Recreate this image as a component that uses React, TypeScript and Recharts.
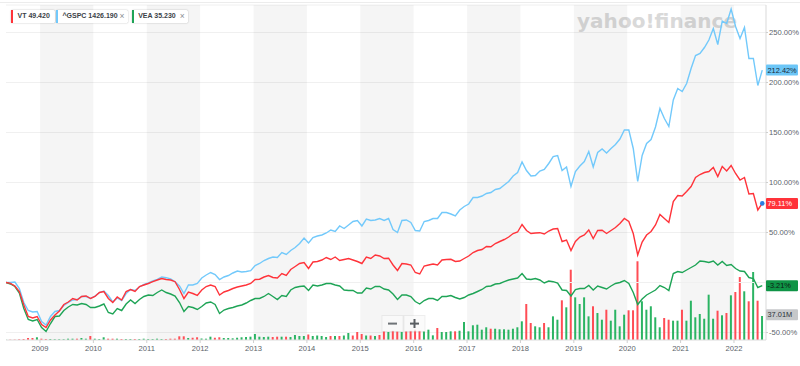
import React from "react";
import {
  ComposedChart,
  Line,
  Bar,
  Cell,
  XAxis,
  YAxis,
  CartesianGrid,
  ReferenceArea,
  ReferenceLine,
  ReferenceDot,
} from "recharts";

// monthly points, May 2008 .. Jul 2022 (171 months), % change from first point
const START_YEAR = 2008;
const START_MONTH = 5;

const vtPct = [
  0, -0.8, -3.5, -9, -22.5, -34, -35.5, -34, -42, -45,
  -37.5, -32.5, -28.5, -22, -19.5, -16, -17.5, -14, -13.5, -16,
  -14, -10, -9, -16, -20, -14.5, -17.5, -9, -7, -9,
  -4, -2.5, -1, 0.8, 2.5, 4, 3, 2.5, 0.8, -7,
  -16, -9.5, -11, -13, -7.5, -4, -2.5, -4, -12.5, -9.5,
  -8, -6, -4.5, -3.5, -2.5, -1, 3, 3.3, 5.5, 7,
  5, 4.5, 9, 7, 13, 16, 19, 20, 14, 20.5,
  21, 22.5, 25, 23, 25.5, 22, 23, 24, 22.5, 21,
  19, 25.5, 24, 27.5, 26.5, 24, 24.3, 17.5, 12, 19,
  18.5, 17.5, 10, 8.5, 16.5, 17.5, 18.5, 17.5, 22.5, 23,
  23.2, 21, 21.5, 24, 26.5, 30, 32, 33, 36, 35.8,
  39, 41, 43, 45.5, 49, 50.5, 58, 52, 49, 49.5,
  49.8, 48.5, 51.5, 53.5, 54, 41, 42.5, 32, 41, 45.5,
  47.5, 52.5, 44, 52, 52.3, 49, 52, 55, 59, 64,
  61, 49, 27.5, 40.5, 47.5, 51, 57.5, 68, 64, 60,
  81, 87, 86.5, 91, 96, 105, 108, 110, 111, 115,
  106, 116, 111.5, 117, 109, 102.5, 105, 88.5, 89, 72.5,
  79.11,
];

const gspcPct = [
  0, 0, 0.5, -6, -20, -28, -29.5, -29, -39, -42.5,
  -34, -29, -28, -23, -20, -17.5, -17, -14, -14, -16,
  -13.5, -10, -8.5, -13, -19.5, -15.5, -18, -11, -7, -8,
  -4.5, -2, -0.5, 1.5, 3.2, 5.5, 4.8, 3.5, 0.8, -3.5,
  -11, -2.5, -2.5, -1, 4.5, 7.5, 10, 8, 3, 5.5,
  7, 9.5, 11.5, 10.5, 11, 11.8, 17, 19, 22, 24,
  25.5, 25, 30, 28, 32, 35, 39, 44.5, 39.5, 45,
  46.5, 47.5, 49.5, 52.5, 51, 56.5, 54, 57.5, 61, 62,
  56.5, 63.5, 62, 62.5, 64, 62, 64, 53, 50, 62,
  62.5, 60, 52, 51.5, 61, 62, 64, 64, 70, 70,
  68.5, 66.5, 72.5, 76, 78.5, 85, 85, 86.5, 89, 90,
  93, 94, 97.5, 101, 106.5, 110, 120.5, 112, 106.5, 107,
  111.5, 113, 119, 126, 127, 112, 115.5, 96, 111, 116.5,
  121, 131, 115.5, 130, 133.5, 129.5, 134, 138, 143.5, 152.5,
  152.5, 134, 101, 127, 139, 143, 155.5, 174, 164, 156,
  182.5, 194, 191, 199, 214, 227, 229, 235, 242.5, 254,
  238, 261.5, 259, 273.5, 256, 244, 255, 224, 224, 197,
  212.42,
];

const veaPct = [
  0, -1.5, -4, -10.5, -26, -37, -38.5, -37, -45, -49,
  -41, -34, -33.5, -28, -24.5, -22, -22.5, -21, -22, -25,
  -25, -23.5, -21.5, -30, -31.5, -26, -28, -21.5, -17.5, -21,
  -17, -14, -12.5, -13, -10, -7.5, -10, -11.5, -13.5, -20,
  -29, -24, -25, -27, -24, -20.5, -19.5, -22, -31, -27.5,
  -26, -25, -23.5, -22.5, -20.5, -18, -16, -16, -14, -11,
  -14, -17, -13, -14, -7.5, -5, -4, -3.5, -8, -2.5,
  -3.5, -2.5, -1, -1, -2.5, -3.5, -7.5, -8, -8, -10.5,
  -10.5, -5.5, -6.5, -4, -4, -6.5, -7.5, -11.5, -17, -12.5,
  -12.5, -14, -19, -21.5, -18, -16, -16, -18, -14, -14,
  -13, -15, -16.5, -15, -12.5, -11, -9, -7, -4, -3.5,
  -1.5, -1, 0.8, 2.5, 3.5, 4.5, 9, 3.5, 3, 4,
  2.5, -0.5, 1.5, 0.8, -0.5, -7.5, -8, -13.5, -7, -6,
  -6, -3, -7.5, -3.5, -5, -6.5, -3.5, -1, 0, 2,
  -1, -10, -22, -16.5, -12.5, -10, -7.5, -3, -5, -8,
  9, 11, 10, 12.5, 15, 17.5, 21.5, 21, 20, 21.5,
  17.5, 21, 17, 18, 14, 11.5, 11, 5, 4, -5,
  -3.21,
];

// VT monthly volume, millions
const vtVolume = [
  0.5, 0.5, 0.6, 1.1, 1.5, 3.1, 3.1, 4.2, 2.0, 1.5,
  1.5, 1.2, 1.2, 1.2, 2.0, 2.0, 2.0, 3.1, 2.0, 6.2,
  2.0, 1.5, 4.2, 2.0, 2.0, 2.0, 1.5, 1.5, 1.5, 1.5,
  1.5, 2.0, 1.5, 1.5, 2.0, 1.5, 1.5, 2.0, 2.0, 5.7,
  5.7, 3.1, 3.5, 4.2, 2.3, 2.0, 5.1, 3.5, 4.2, 3.1,
  3.1, 2.6, 3.5, 4.2, 4.6, 5.1, 9.3, 5.1, 4.6, 5.1,
  4.6, 5.1, 5.1, 5.1, 4.6, 7.7, 6.2, 6.2, 8.5, 6.2,
  6.9, 6.2, 4.6, 6.2, 6.2, 6.2, 6.9, 10.8, 6.9, 12.3,
  9.3, 6.9, 6.9, 6.2, 7.7, 13.4, 12.3, 14.3, 13.1, 12.3,
  13.4, 14.3, 15.9, 14.3, 13.4, 15.9, 7.2, 18.5, 12.3, 12.3,
  13.4, 13.4, 14.3, 27.8, 13.4, 22.7, 23.6, 15.9, 19.6, 17.4,
  17.4, 16.5, 16.5, 15.9, 17.4, 19.6, 28.8, 55.5, 26.2, 21.1,
  19.6, 26.2, 19.6, 36.5, 31.3, 61.2, 50.4, 108.4, 65.8, 55.5,
  65.8, 36.5, 52.0, 41.6, 31.3, 46.7, 29.8, 46.7, 21.1, 39.0,
  45.8, 45.8, 121.4, 59.7, 46.7, 52.0, 35.0, 19.6, 33.9, 31.3,
  29.8, 29.8, 46.7, 29.8, 60.6, 35.0, 40.1, 32.8, 69.9, 32.8,
  45.2, 38.1, 41.6, 68.9, 74.0, 97.1, 75.1, 59.7, 104.9, 60.6,
  37.01,
];

const yearTicks = [2009, 2010, 2011, 2012, 2013, 2014, 2015, 2016, 2017, 2018, 2019, 2020, 2021, 2022];
const shadedYears = [2009, 2011, 2013, 2015, 2017, 2019, 2021];
const pctTicks = [-50, 50, 100, 150, 200, 250];

const RED = "#ff333a";
const BLUE = "#72c9fb";
const GREEN = "#1ea456";
const BAR_RED = "#ff4d55";
const BAR_GREEN = "#2bb463";

const data = vtPct.map((vt, i) => {
  const m = START_MONTH - 1 + i;
  const year = START_YEAR + Math.floor(m / 12);
  const month = m % 12;
  return {
    t: year + (month + 0.36) / 12,
    vt,
    gspc: gspcPct[i],
    vea: veaPct[i],
    vol: vtVolume[i],
    up: i === 0 || vt >= vtPct[i - 1],
  };
});
const last = data[data.length - 1];

const badge = (text: string, bg: string, color: string) => (props: any) => {
  const { cy } = props;
  return (
    <g>
      <rect x={766} y={cy - 5.5} width={32} height={11} rx={1} fill={bg} />
      <text x={767.5} y={cy + 2.7} fontSize={7.4} fill={color} fontFamily="Liberation Sans, Arial, sans-serif">
        {text}
      </text>
    </g>
  );
};

const chipStyle: React.CSSProperties = {
  position: "absolute",
  top: 10,
  height: 12.5,
  background: "#fff",
  boxShadow: "0 0 1.5px rgba(0,0,0,0.35)",
  borderRadius: 1.5,
  fontSize: 7,
  fontWeight: 700,
  color: "#3b4248",
  lineHeight: "12.5px",
  whiteSpace: "nowrap",
};

function Chip({ left, width, color, text, close }: { left: number; width: number; color: string; text: string; close: boolean }) {
  return (
    <div style={{ ...chipStyle, left, width }}>
      <div style={{ position: "absolute", left: 0, top: 0, width: 2.3, height: "100%", background: color }} />
      <span style={{ position: "absolute", left: 6.5 }}>{text}</span>
      {close && <span style={{ position: "absolute", right: 3.5, color: "#8a8f94", fontWeight: 400, fontSize: 8.5 }}>×</span>}
    </div>
  );
}

export default function App() {
  return (
    <div style={{ position: "absolute", left: 0, top: 0, width: 800, height: 366, background: "#fff", fontFamily: "Liberation Sans, Arial, sans-serif" }}>
      <svg width={800} height={366} style={{ position: "absolute", left: 0, top: 0 }}>
        <line x1={0} x2={800} y1={2.5} y2={2.5} stroke="#ececec" />
        <text x={577} y={28} fontSize={20} fontWeight="bold" fill="#d9d9d9" fontFamily="DejaVu Sans, sans-serif" textLength={160}>
          yahoo!finance
        </text>
      </svg>
      <div style={{ position: "absolute", left: 0, top: 0 }}>
        <ComposedChart width={800} height={366} data={data} margin={{ top: 5, right: 0, bottom: 0, left: 6 }}>
          {shadedYears.map((y) => (
            <ReferenceArea key={y} x1={y} x2={y + 1} yAxisId="pct" fill="rgba(0,0,0,0.04)" fillOpacity={1} stroke="none" ifOverflow="hidden" />
          ))}
          <CartesianGrid yAxisId="pct" vertical={false} stroke="#f0f0f0" />
          <ReferenceLine yAxisId="pct" y={0} stroke="#f0f0f0" />
          <XAxis
            dataKey="t"
            type="number"
            domain={[2008.363, 2022.6]}
            ticks={yearTicks}
            tickFormatter={(v) => String(v)}
            allowDataOverflow
            height={26}
            tickSize={3}
            tickMargin={3}
            tick={{ fontSize: 7.6, fill: "#5b636a" }}
            axisLine={{ stroke: "#e3e3e3" }}
            tickLine={{ stroke: "#cfcfcf" }}
          />
          <YAxis
            yAxisId="pct"
            orientation="right"
            domain={[-57.5, 277.5]}
            ticks={pctTicks}
            allowDataOverflow
            tickFormatter={(v) => `${Number(v).toFixed(2)}%`}
            width={34}
            tickSize={2}
            tickMargin={1}
            tick={{ fontSize: 7.6, fill: "#5b636a", textAnchor: "start" }}
            axisLine={{ stroke: "#d9d9d9" }}
            tickLine={{ stroke: "#cfcfcf" }}
          />
          <YAxis yAxisId="vol" hide domain={[0, 516.6]} allowDataOverflow />
          <Bar yAxisId="vol" dataKey="vol" barSize={2} isAnimationActive={false}>
            {data.map((d, i) => (
              <Cell key={i} fill={d.up ? BAR_GREEN : BAR_RED} />
            ))}
          </Bar>
          <Line yAxisId="pct" dataKey="gspc" stroke={BLUE} strokeWidth={1.4} dot={false} isAnimationActive={false} />
          <Line yAxisId="pct" dataKey="vea" stroke={GREEN} strokeWidth={1.4} dot={false} isAnimationActive={false} />
          <Line yAxisId="pct" dataKey="vt" stroke={RED} strokeWidth={1.4} dot={false} isAnimationActive={false} />
          <ReferenceDot yAxisId="pct" x={last.t} y={last.gspc} shape={badge("212.42%", "#6cc6f7", "#1b2a36")} />
          <ReferenceDot yAxisId="pct" x={last.t} y={last.vt} shape={badge("79.11%", "#ff333a", "#ffffff")} />
          <ReferenceDot yAxisId="pct" x={last.t} y={last.vea} shape={badge("-3.21%", "#0f9446", "#0d1a12")} />
          <ReferenceDot yAxisId="vol" x={last.t} y={last.vol + 2} shape={badge("37.01M", "#c6c8ca", "#2b3036")} />
          <ReferenceDot yAxisId="pct" x={last.t} y={last.vt} r={2.3} fill="#2a7de1" stroke="none" />
        </ComposedChart>
      </div>
      <svg width={800} height={366} style={{ position: "absolute", left: 0, top: 0, pointerEvents: "none" }}>
        <rect x={382} y={315.5} width={21} height={16} fill="rgba(250,250,250,0.8)" stroke="rgba(0,0,0,0.06)" />
        <rect x={404} y={315.5} width={21} height={16} fill="rgba(250,250,250,0.8)" stroke="rgba(0,0,0,0.06)" />
        <rect x={388} y={322.6} width={9} height={2} fill="#6f7478" />
        <rect x={410} y={322.6} width={9} height={2} fill="#5a5f63" />
        <rect x={413.5} y={319} width={2} height={9} fill="#5a5f63" />
      </svg>
      <Chip left={11} width={44} color={RED} text="VT 49.420" close={false} />
      <Chip left={56} width={72} color={BLUE} text="^GSPC 1426.190" close />
      <Chip left={131.7} width={56.6} color={GREEN} text="VEA 35.230" close />
    </div>
  );
}
